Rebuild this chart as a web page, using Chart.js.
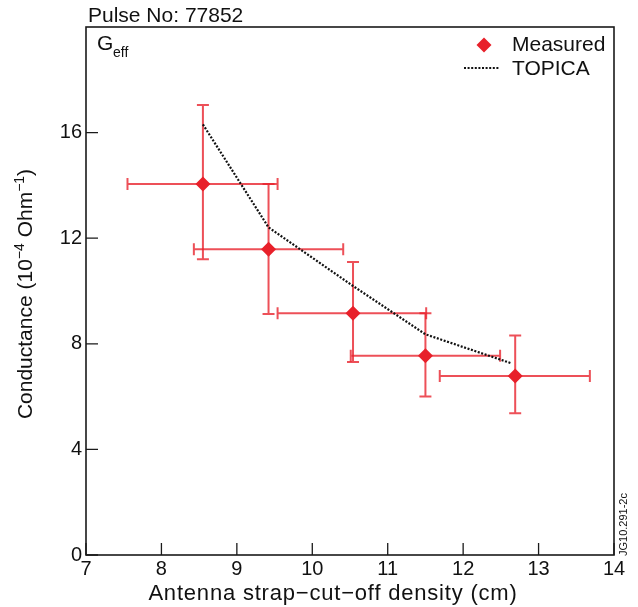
<!DOCTYPE html>
<html>
<head>
<meta charset="utf-8">
<script src="https://cdn.jsdelivr.net/npm/chart.js@4.4.1/dist/chart.umd.min.js"></script>
<style>
  html, body { margin: 0; padding: 0; background: #fff; }
  #wrap { width: 638px; height: 607px; position: relative; }
</style>
</head>
<body>
<div id="wrap"><canvas id="condChart" width="638" height="607"></canvas></div>
<script>
// measured points (cut-off density in cm, conductance in 1e-4 Ohm^-1)
var measX     = [8.55, 9.42, 10.54, 11.50, 12.69];
var measXLow  = [7.55, 8.43, 9.54, 10.51, 11.69];
var measXHigh = [9.54, 10.41, 11.51, 12.49, 13.68];
var measY     = [14.05, 11.58, 9.16, 7.55, 6.78];
var measYLow  = [11.20, 9.13, 7.31, 6.00, 5.37];
var measYHigh = [17.05, 14.05, 11.10, 9.16, 8.31];

// TOPICA calculation
var topicaX = [8.55, 9.42, 10.54, 11.50, 12.63];
var topicaY = [16.31, 12.41, 10.19, 8.36, 7.27];

var xTicks = [7, 8, 9, 10, 11, 12, 13, 14];
var yTicks = [0, 4, 8, 12, 16];

var FONT = '"Liberation Sans", Arial, Helvetica, sans-serif';
var RED = '#e8202a';
var BAR = 'rgba(232, 36, 46, 0.8)';

function pts(xs, ys) {
    var out = [];
    for (var i = 0; i < xs.length; i++) out.push({x: xs[i], y: ys[i]});
    return out;
}

// error bars, frame, inner ticks and the annotation texts
var decorPlugin = {
    id: 'decor',
    beforeDatasetsDraw: function (chart) {
        var ctx = chart.ctx, xs = chart.scales.x, ys = chart.scales.y, a = chart.chartArea;
        var cap = 6;
        ctx.save();
        ctx.beginPath();
        ctx.rect(a.left, a.top, a.right - a.left, a.bottom - a.top);
        ctx.clip();
        ctx.strokeStyle = BAR;
        ctx.lineWidth = 2;
        for (var i = 0; i < measX.length; i++) {
            var px = xs.getPixelForValue(measX[i]);
            var py = ys.getPixelForValue(measY[i]);
            var x0 = xs.getPixelForValue(measXLow[i]);
            var x1 = xs.getPixelForValue(measXHigh[i]);
            var y0 = ys.getPixelForValue(measYLow[i]);
            var y1 = ys.getPixelForValue(measYHigh[i]);
            ctx.beginPath();
            ctx.moveTo(x0, py); ctx.lineTo(x1, py);
            ctx.moveTo(px, y0); ctx.lineTo(px, y1);
            ctx.moveTo(x0, py - cap); ctx.lineTo(x0, py + cap);
            ctx.moveTo(x1, py - cap); ctx.lineTo(x1, py + cap);
            ctx.moveTo(px - cap, y0); ctx.lineTo(px + cap, y0);
            ctx.moveTo(px - cap, y1); ctx.lineTo(px + cap, y1);
            ctx.stroke();
        }
        ctx.restore();
    },
    afterDraw: function (chart) {
        var ctx = chart.ctx, xs = chart.scales.x, ys = chart.scales.y, a = chart.chartArea;
        ctx.save();
        // frame
        ctx.strokeStyle = '#1a1a1a';
        ctx.lineWidth = 1.6;
        ctx.strokeRect(a.left, a.top, a.right - a.left, a.bottom - a.top);
        // inner tick marks
        ctx.lineWidth = 1.3;
        ctx.beginPath();
        xTicks.forEach(function (v) {
            var p = xs.getPixelForValue(v);
            ctx.moveTo(p, a.bottom); ctx.lineTo(p, a.bottom - 12);
        });
        yTicks.forEach(function (v) {
            var p = ys.getPixelForValue(v);
            ctx.moveTo(a.left, p); ctx.lineTo(a.left + 12, p);
        });
        ctx.stroke();

        ctx.fillStyle = '#111';
        ctx.textBaseline = 'alphabetic';
        // header
        ctx.font = '21px ' + FONT;
        ctx.textAlign = 'left';
        ctx.fillText('Pulse No: 77852', 88, 22);
        // G_eff
        ctx.font = '21px ' + FONT;
        ctx.fillText('G', 97, 50);
        ctx.font = '14px ' + FONT;
        ctx.fillText('eff', 113, 57);

        // legend
        ctx.fillStyle = RED;
        ctx.beginPath();
        ctx.moveTo(484, 37.5); ctx.lineTo(491.5, 45); ctx.lineTo(484, 52.5); ctx.lineTo(476.5, 45);
        ctx.closePath();
        ctx.fill();
        ctx.strokeStyle = '#111';
        ctx.lineWidth = 2.2;
        ctx.setLineDash([2, 1.6]);
        ctx.beginPath();
        ctx.moveTo(464, 68); ctx.lineTo(499, 68);
        ctx.stroke();
        ctx.setLineDash([]);
        ctx.fillStyle = '#111';
        ctx.font = '21px ' + FONT;
        ctx.textBaseline = 'middle';
        ctx.fillText('Measured', 512, 45);
        ctx.fillText('TOPICA', 512, 69);

        // x title
        ctx.textBaseline = 'alphabetic';
        ctx.textAlign = 'center';
        ctx.font = '22px ' + FONT;
        ctx.letterSpacing = '0.8px';
        ctx.fillText('Antenna strap\u2212cut\u2212off density (cm)', 333, 600);
        ctx.letterSpacing = '0px';

        // y title with superscripts
        var parts = [
            ['Conductance (10', 21, 0],
            ['\u22124', 14, -8],
            [' Ohm', 21, 0],
            ['\u22121', 14, -8],
            [')', 21, 0]
        ];
        var total = 0;
        parts.forEach(function (p) { ctx.font = p[1] + 'px ' + FONT; total += ctx.measureText(p[0]).width; });
        ctx.translate(32, 294);
        ctx.rotate(-Math.PI / 2);
        ctx.textAlign = 'left';
        var cx = -total / 2;
        parts.forEach(function (p) {
            ctx.font = p[1] + 'px ' + FONT;
            ctx.fillText(p[0], cx, p[2]);
            cx += ctx.measureText(p[0]).width;
        });
        ctx.setTransform(1, 0, 0, 1, 0, 0);

        // figure code
        ctx.font = '11px ' + FONT;
        ctx.translate(627, 556);
        ctx.rotate(-Math.PI / 2);
        ctx.textAlign = 'left';
        ctx.fillText('JG10.291-2c', 0, 0);
        ctx.restore();
    }
};

var chartdata = {
    datasets: [
        {
            label: 'Measured',
            data: pts(measX, measY),
            showLine: false,
            pointStyle: 'rectRot',
            pointRadius: 7.5,
            pointHoverRadius: 7.5,
            backgroundColor: RED,
            borderColor: RED,
            borderWidth: 0
        },
        {
            label: 'TOPICA',
            data: pts(topicaX, topicaY),
            showLine: true,
            pointRadius: 0,
            borderColor: '#111',
            borderWidth: 2.2,
            borderDash: [2, 1.6],
            tension: 0,
            fill: false
        }
    ]
};

var graphTarget = document.getElementById('condChart');
var condChart = new Chart(graphTarget, {
    type: 'scatter',
    data: chartdata,
    plugins: [decorPlugin],
    options: {
        responsive: false,
        animation: false,
        layout: { padding: { top: 27, right: 24, left: 0, bottom: 0 } },
        plugins: {
            legend: { display: false },
            tooltip: { enabled: false }
        },
        scales: {
            x: {
                type: 'linear',
                min: 7,
                max: 14,
                grid: { display: false, drawTicks: false },
                border: { display: false },
                afterFit: function (scale) { scale.height = 52; },
                ticks: {
                    stepSize: 1,
                    padding: 2,
                    color: '#111',
                    font: { family: FONT, size: 20 }
                }
            },
            y: {
                type: 'linear',
                min: 0,
                max: 20,
                grid: { display: false, drawTicks: false },
                border: { display: false },
                afterFit: function (scale) { scale.width = 86; },
                ticks: {
                    stepSize: 4,
                    padding: 4,
                    color: '#111',
                    font: { family: FONT, size: 20 },
                    callback: function (v) { return v === 20 ? '' : v; }
                }
            }
        }
    }
});
</script>
</body>
</html>
